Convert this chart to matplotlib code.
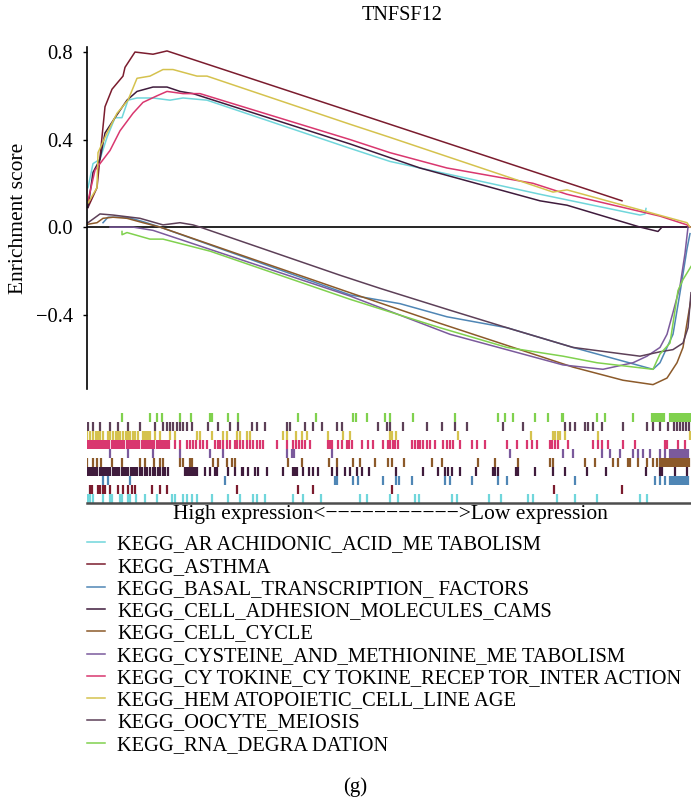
import matplotlib
matplotlib.use("Agg")
import matplotlib.pyplot as plt

plt.rcParams['font.family'] = ['Liberation Serif', 'DejaVu Serif']

title = "TNFSF12"
ylabel = "Enrichment score"
xlabel = "High expression<\u2212\u2212\u2212\u2212\u2212\u2212\u2212\u2212\u2212\u2212\u2212>Low expression"
panel = "(g)"
yticks = [-0.4, 0.0, 0.4, 0.8]
ytick_labels = ["\u22120.4", "0.0", "0.4", "0.8"]
n_rank = 604

names = [
    "KEGG_AR ACHIDONIC_ACID_ME TABOLISM",
    "KEGG_ASTHMA",
    "KEGG_BASAL_TRANSCRIPTION_ FACTORS",
    "KEGG_CELL_ADHESION_MOLECULES_CAMS",
    "KEGG_CELL_CYCLE",
    "KEGG_CYSTEINE_AND_METHIONINE_ME TABOLISM",
    "KEGG_CY TOKINE_CY TOKINE_RECEP TOR_INTER ACTION",
    "KEGG_HEM ATOPOIETIC_CELL_LINE AGE",
    "KEGG_OOCYTE_MEIOSIS",
    "KEGG_RNA_DEGRA DATION",
]
colors = ["#70d6db", "#7b1c2e", "#4f86b5", "#3f1b3c", "#8c5a2a",
          "#7b5a9c", "#d9376f", "#d5c24e", "#5d4058", "#80d14e"]

# running enrichment score curves: rank positions and ES values
ara_x = [1, 6, 13, 20, 28, 35, 41, 50, 66, 83, 96, 120, 263, 303, 453, 553, 558, 559]
ara_y = [0.18, 0.29, 0.31, 0.41, 0.50, 0.50, 0.58, 0.59, 0.59, 0.58, 0.59, 0.58, 0.36, 0.30, 0.15, 0.055, 0.06, 0.085]
ast_x = [1, 10, 18, 25, 36, 38, 48, 66, 80, 253, 535]
ast_y = [0.09, 0.18, 0.55, 0.63, 0.69, 0.73, 0.80, 0.79, 0.805, 0.545, 0.12]
bas_x = [16, 21, 40, 56, 73, 263, 313, 360, 420, 486, 566, 573, 586, 593, 600, 603]
bas_y = [0.02, 0.045, 0.045, 0.025, 0.0, -0.31, -0.35, -0.41, -0.46, -0.55, -0.65, -0.62, -0.49, -0.30, -0.10, -0.03]
cam_x = [1, 6, 13, 18, 28, 40, 50, 66, 80, 93, 106, 263, 333, 453, 480, 553, 571, 575, 601]
cam_y = [0.09, 0.25, 0.31, 0.43, 0.50, 0.58, 0.62, 0.64, 0.64, 0.62, 0.61, 0.38, 0.27, 0.12, 0.10, 0.0, -0.02, 0.0, 0.0]
cyc_x = [1, 10, 16, 26, 40, 56, 73, 263, 353, 486, 536, 566, 580, 590, 596, 601, 604]
cyc_y = [0.013, 0.02, 0.04, 0.045, 0.04, 0.02, 0.0, -0.30, -0.44, -0.64, -0.70, -0.72, -0.69, -0.62, -0.55, -0.41, -0.33]
cys_x = [23, 46, 66, 263, 363, 476, 516, 546, 560, 573, 580, 586, 593, 598, 601]
cys_y = [0.0, 0.0, -0.015, -0.315, -0.49, -0.63, -0.65, -0.62, -0.59, -0.55, -0.49, -0.39, -0.27, -0.12, 0.0]
cyt_x = [1, 8, 13, 23, 33, 46, 56, 70, 80, 96, 113, 263, 303, 360, 446, 480, 573, 600, 603]
cyt_y = [0.12, 0.26, 0.29, 0.35, 0.44, 0.52, 0.57, 0.60, 0.62, 0.61, 0.61, 0.40, 0.34, 0.27, 0.20, 0.15, 0.05, 0.01, 0.0]
hem_x = [1, 10, 11, 20, 30, 41, 50, 63, 76, 86, 110, 120, 263, 303, 466, 480, 600, 603]
hem_y = [0.11, 0.18, 0.34, 0.43, 0.52, 0.58, 0.68, 0.69, 0.72, 0.72, 0.69, 0.69, 0.47, 0.41, 0.16, 0.17, 0.02, 0.0]
ooc_x = [1, 13, 26, 53, 76, 93, 106, 113, 253, 293, 363, 420, 486, 536, 553, 573, 586, 596, 601, 604]
ooc_y = [0.02, 0.06, 0.055, 0.04, 0.01, 0.02, 0.01, 0.0, -0.22, -0.28, -0.38, -0.46, -0.55, -0.58, -0.59, -0.57, -0.56, -0.53, -0.46, -0.30]
rna_x = [35, 35, 40, 63, 76, 123, 263, 353, 420, 476, 510, 566, 573, 583, 591, 596, 604]
rna_y = [-0.02, -0.035, -0.025, -0.055, -0.055, -0.11, -0.33, -0.46, -0.55, -0.59, -0.62, -0.65, -0.58, -0.53, -0.29, -0.24, -0.18]

# hit positions (gene ranks) per gene set
ara_hits = [1, 3, 6, 16, 23, 25, 33, 35, 41, 43, 49, 58, 70, 85, 88, 96, 100, 105, 110, 125, 141, 153,
            166, 170, 178, 206, 216, 234, 273, 280, 303, 311, 328, 332, 365, 370, 402, 414, 441, 446,
            470, 488, 510, 553, 560]
ast_hits = [3, 5, 11, 13, 16, 18, 23, 31, 36, 41, 45, 48, 65, 73, 80, 150, 211, 226, 305, 467, 535]
bas_hits = [16, 21, 43, 138, 248, 250, 266, 271, 296, 309, 312, 325, 358, 363, 385, 411, 420, 488,
            568, 573, 578, 583, 585, 587, 589, 591, 593, 595, 597, 599, 601]
cam_hits = [0, 2, 4, 6, 8, 10, 13, 15, 17, 19, 21, 23, 26, 28, 30, 32, 35, 37, 39, 41, 44, 46, 48, 50,
            53, 55, 58, 60, 63, 66, 68, 71, 73, 76, 78, 81, 98, 100, 102, 104, 106, 108, 110, 118, 123,
            128, 130, 141, 148, 155, 156, 161, 168, 171, 180, 196, 206, 208, 210, 216, 222, 226, 231,
            245, 250, 258, 263, 270, 275, 282, 309, 336, 351, 358, 361, 365, 373, 389, 406, 408, 411,
            429, 431, 448, 466, 478, 500, 519, 559, 573, 575, 588, 600]
cyc_hits = [0, 6, 10, 14, 25, 35, 53, 58, 67, 73, 76, 93, 96, 103, 105, 126, 131, 140, 145, 148, 201,
            215, 242, 250, 266, 273, 288, 301, 305, 317, 345, 355, 391, 408, 431, 463, 466, 498, 508,
            526, 531, 541, 543, 551, 560, 566, 570, 573, 575, 576, 578, 579, 581, 582, 584, 585, 587,
            588, 590, 591, 593, 594, 596, 597, 599, 600, 602]
cys_hits = [23, 41, 66, 93, 123, 136, 200, 205, 207, 245, 423, 476, 486, 515, 523, 533, 546, 551, 556,
            563, 573, 578, 583, 585, 587, 589, 591, 593, 595, 597, 599, 601]
cyt_hits = [0, 2, 4, 6, 8, 10, 12, 14, 16, 18, 20, 22, 25, 27, 29, 31, 33, 35, 37, 40, 42, 44, 46, 48,
            50, 52, 55, 57, 59, 61, 63, 65, 67, 70, 72, 74, 76, 78, 80, 82, 88, 93, 100, 103, 106, 109,
            113, 116, 120, 128, 131, 133, 136, 140, 143, 148, 150, 153, 156, 160, 163, 166, 170, 173,
            176, 190, 200, 206, 209, 212, 215, 218, 223, 241, 243, 245, 251, 255, 260, 262, 265, 275,
            281, 286, 296, 301, 303, 306, 308, 311, 325, 328, 331, 333, 336, 340, 343, 348, 356, 360,
            363, 366, 373, 385, 390, 398, 420, 430, 440, 445, 450, 463, 465, 468, 471, 481, 506, 511,
            515, 521, 536, 548, 578, 580, 591, 598]
hem_hits = [0, 3, 6, 9, 11, 13, 16, 21, 23, 26, 29, 31, 33, 36, 39, 41, 43, 46, 48, 51, 56, 58, 60, 61,
            63, 68, 73, 83, 88, 110, 113, 125, 136, 140, 150, 153, 160, 163, 196, 200, 209, 215, 220,
            241, 256, 263, 303, 305, 309, 371, 444, 466, 468, 471, 473, 478, 511, 603]
ooc_hits = [1, 6, 13, 23, 31, 41, 53, 68, 76, 80, 83, 86, 90, 93, 96, 100, 105, 121, 131, 143, 151,
            165, 170, 178, 200, 203, 218, 226, 235, 250, 255, 291, 300, 303, 316, 340, 355, 368, 380,
            416, 436, 478, 483, 488, 498, 501, 506, 515, 536, 560, 566, 573, 581, 587, 590, 593, 596,
            599, 602]
rna_hits = [35, 63, 70, 75, 93, 104, 123, 125, 141, 151, 211, 229, 266, 269, 280, 298, 303, 326, 368,
            411, 418, 426, 448, 461, 475, 476, 510, 518, 546, 565, 567, 569, 571, 573, 575, 577, 583,
            585, 587, 589, 591, 593, 595, 597, 599, 601, 603]

curves = [(ara_x, ara_y), (ast_x, ast_y), (bas_x, bas_y), (cam_x, cam_y), (cyc_x, cyc_y),
          (cys_x, cys_y), (cyt_x, cyt_y), (hem_x, hem_y), (ooc_x, ooc_y), (rna_x, rna_y)]
hits = [ara_hits, ast_hits, bas_hits, cam_hits, cyc_hits, cys_hits, cyt_hits, hem_hits, ooc_hits, rna_hits]

W, H = 691, 801
fig = plt.figure(figsize=(W / 100, H / 100), dpi=100)

def fx(px):
    return px / W

def fy(py):
    return 1 - py / H

ax = fig.add_axes([fx(87), fy(389), fx(604), (389 - 47) / H])
handles = []
for (xs, ys), c in zip(curves, colors):
    ln, = ax.plot(xs, ys, color=c, lw=1.1)
    handles.append(ln)
ax.axhline(0, color="black", lw=1.2, zorder=0)
ax.set_xlim(0, n_rank)
ax.set_ylim(-0.74, 0.823)
ax.set_yticks(yticks)
ax.set_yticklabels(ytick_labels, fontsize=14.8)
ax.set_xticks([])
for s in ["top", "right", "bottom"]:
    ax.spines[s].set_visible(False)
ax.spines["left"].set_linewidth(1.2)
ax.tick_params(axis="y", length=3, width=1, pad=7)
ax.set_ylabel(ylabel, fontsize=15.5, labelpad=6)

# rug of hits
rax = fig.add_axes([fx(87), fy(503), fx(604), 90 / H])
nrows = len(hits)
for i, (h, c) in enumerate(zip(hits, colors)):
    rax.vlines(h, i + 0.05, i + 1.0, color=c, lw=1.6)
rax.set_xlim(0, n_rank)
rax.set_ylim(0, nrows)
rax.set_xticks([])
rax.set_yticks([])
for s in ["top", "right", "left"]:
    rax.spines[s].set_visible(False)
rax.spines["bottom"].set_linewidth(1.8)
rax.spines["bottom"].set_color("#4d4d4d")

fig.text(fx(390), fy(515), xlabel, ha="center", va="center", fontsize=15.5)
fig.text(fx(402), fy(15), title, ha="center", va="center", fontsize=14.6)
fig.text(fx(355), fy(787), panel, ha="center", va="center", fontsize=15)

leg = fig.legend(handles, names, loc="upper left", bbox_to_anchor=(fx(87), fy(535)),
                 frameon=False, fontsize=14.8, handlelength=0.88, handletextpad=0.59,
                 labelspacing=0.14, borderaxespad=0, borderpad=0)

fig.savefig("out.png", dpi=100)
